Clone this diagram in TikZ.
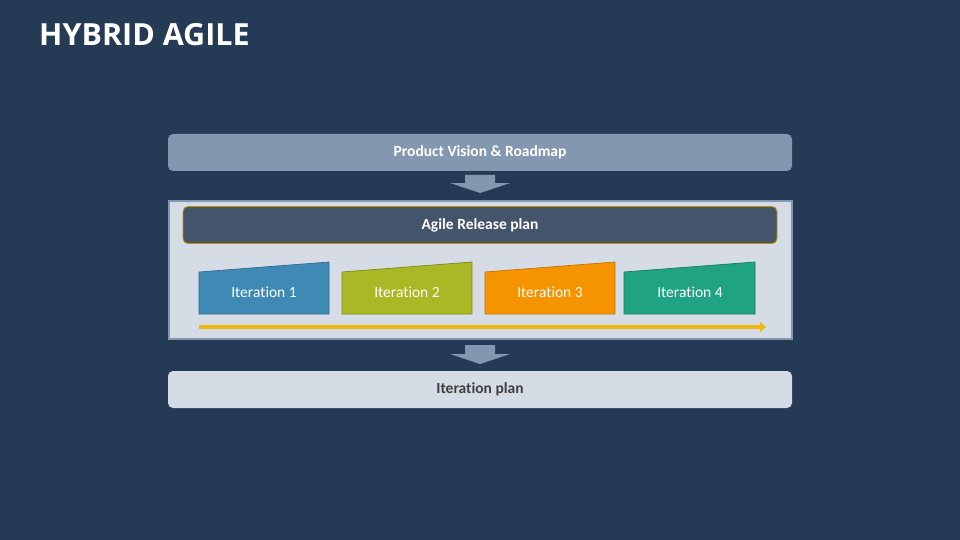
\documentclass[tikz,border=0pt]{standalone}
\usepackage{fontspec}
\setmainfont[Ligatures=NoCommon]{Carlito}
\newfontfamily\titlefont{Open Sans}
\usetikzlibrary{arrows.meta,calc}
\definecolor{bg}{HTML}{253A54}
\definecolor{steel}{HTML}{8497B0}
\definecolor{pale}{HTML}{D6DCE5}
\definecolor{slate}{HTML}{44546A}
\definecolor{gold}{HTML}{BF9000}
\definecolor{itone}{HTML}{3F8AB5}
\definecolor{itoneb}{HTML}{2E6A8E}
\definecolor{ittwo}{HTML}{A9B824}
\definecolor{ittwob}{HTML}{7F8A1B}
\definecolor{itthree}{HTML}{F59300}
\definecolor{itthreeb}{HTML}{C47500}
\definecolor{itfour}{HTML}{1FA383}
\definecolor{itfourb}{HTML}{177A62}
\definecolor{yel}{HTML}{F0B90F}
\definecolor{darktext}{HTML}{404040}
\tikzset{
  barbox/.style={rounded corners=5pt, minimum width=624pt, minimum height=37pt, inner sep=0pt, font=\fontsize{15.5}{18}\selectfont\bfseries},
  itlabel/.style={text=white, font=\fontsize{15.5}{18}\selectfont, inner sep=0pt},
  blockarrow/.style={fill=steel, draw=none},
}
\begin{document}
\begin{tikzpicture}[x=1pt,y=-1pt]
\fill[bg] (0,0) rectangle (960,540);
\useasboundingbox (0,0) rectangle (960,540);
% title
\node[anchor=base west, inner sep=0pt, text=white, font=\titlefont\fontsize{30.5}{34}\selectfont\bfseries] (title) at (39,46) {HYBRID AGILE};
% top box
\node[barbox, fill=steel, text=white] (pv) at (480,152.5) {Product Vision \& Roadmap};
% container
\node[draw=steel, line width=2pt, fill=pale, minimum width=623pt, minimum height=138pt, inner sep=0pt] (rel) at (480,269.5) {};
\node[draw=gold, line width=0.8pt, fill=slate, rounded corners=5pt, minimum width=594pt, minimum height=37pt, inner sep=0pt, text=white, font=\fontsize{15.5}{18}\selectfont\bfseries] (arp) at (480,225) {Agile Release plan};
% bottom box
\node[barbox, fill=pale, text=darktext] (ip) at (480,389.5) {Iteration plan};
% block arrows
\fill[blockarrow] (465,175) -- (495,175) -- (495,183) -- (510,183) -- (480,193) -- (450,183) -- (465,183) -- cycle;
\fill[blockarrow] (465,345) -- (495,345) -- (495,354) -- (510,354) -- (480,364) -- (450,354) -- (465,354) -- cycle;
% iterations
\filldraw[fill=itone, draw=itoneb, line width=0.7pt] (199,314) -- (199,272) -- (329,262) -- (329,314) -- cycle;
\node[itlabel] (i1) at (264,292) {Iteration 1};
\filldraw[fill=ittwo, draw=ittwob, line width=0.7pt] (342,314) -- (342,272) -- (472,262) -- (472,314) -- cycle;
\node[itlabel] (i2) at (407,292) {Iteration 2};
\filldraw[fill=itthree, draw=itthreeb, line width=0.7pt] (485,314) -- (485,272) -- (615,262) -- (615,314) -- cycle;
\node[itlabel] (i3) at (550,292) {Iteration 3};
\filldraw[fill=itfour, draw=itfourb, line width=0.7pt] (624,314) -- (624,272) -- (755,262) -- (755,314) -- cycle;
\node[itlabel] (i4) at (690,292) {Iteration 4};
% timeline arrow
\coordinate (ts) at (199,327);
\coordinate (te) at (766,327);
\draw[yel, line width=4pt, -{Triangle[length=6pt,width=10pt]}] (ts) -- (te);
\end{tikzpicture}
\end{document}
